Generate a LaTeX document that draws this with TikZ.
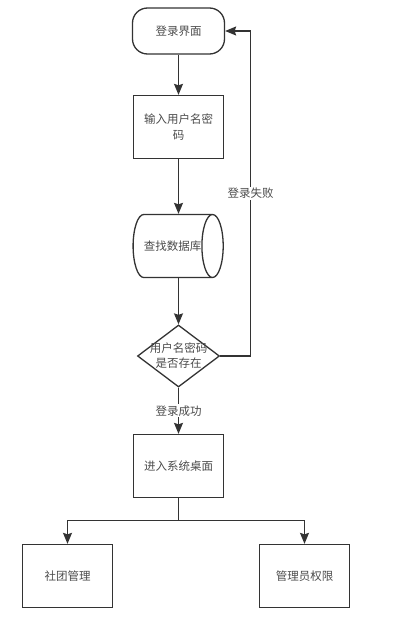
\documentclass[tikz,border=0pt]{standalone}
\usepackage{fontspec}
\setmainfont{Noto Sans CJK SC}
\usetikzlibrary{arrows.meta}
\usetikzlibrary{shapes.geometric}

\definecolor{linegray}{RGB}{51,51,51}
\definecolor{textgray}{RGB}{75,75,75}

\tikzset{
    base/.style={draw=linegray, line width=1.3pt, text=textgray, align=center,
        font=\fontsize{11.5}{16}\selectfont, inner sep=0pt},
    termbox/.style={base, rectangle, rounded corners=15pt, minimum width=92pt, minimum height=46pt},
    procbox/.style={base, rectangle, minimum width=90pt, minimum height=63pt},
    dbcyl/.style={base, cylinder, shape aspect=2, minimum width=63pt, minimum height=85pt},
    decide/.style={base, diamond, minimum width=82pt, minimum height=62pt},
    edgelbl/.style={fill=white, text=textgray, font=\fontsize{11.5}{14}\selectfont, inner sep=1pt},
    arr/.style={draw=linegray, line width=1.3pt, -{Stealth[length=11pt, width=9pt, inset=1.5pt]}}
}

\begin{document}
\begin{tikzpicture}[x=1pt, y=-1pt]

    \useasboundingbox (0,0) rectangle (403,621);

    \node[termbox] (login) at (178.5,31) {登录界面};
    \node[procbox] (input) at (178.5,127) {输入用户名密\\码};
    \node[dbcyl] (db) at (172.5,246) {查找数据库};
    \node[decide, label={[text=textgray, align=center, font=\fontsize{11.5}{15}\selectfont]center:用户名密码\\是否存在}] (chk) at (178.5,356) {};
    \node[procbox] (desk) at (178.5,466) {进入系统桌面};
    \node[procbox] (club) at (67.5,576) {社团管理};
    \node[procbox] (admin) at (304.5,576) {管理员权限};

    \coordinate (back) at (250.5,0);

    \draw[arr] (login) -- (input);
    \draw[arr] (input) -- (db.north -| input);
    \draw[arr] (db.south -| chk) -- (chk);
    \draw[arr] (chk) -- node[edgelbl]{登录成功} (desk);
    \draw[arr] (chk.east) -| node[edgelbl, pos=0.75]{登录失败} (back |- login.east) -- (login.east);
    \draw[arr] (desk.south) -- ++(0,22) -| (club.north);
    \draw[arr] (desk.south) -- ++(0,22) -| (admin.north);

\end{tikzpicture}
\end{document}
